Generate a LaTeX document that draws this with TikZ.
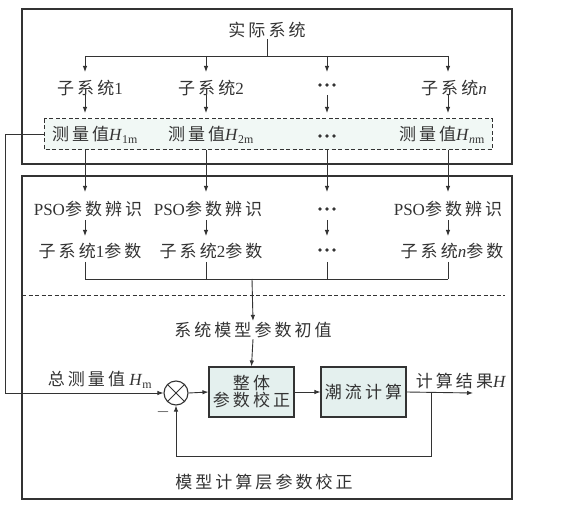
\documentclass[tikz,border=0pt]{standalone}
\usepackage{fontspec}
\setmainfont{Liberation Serif}
\newfontfamily\cjk[LetterSpace=18]{Noto Sans CJK SC}
\usetikzlibrary{arrows.meta,calc}
\newcommand\zh[1]{{\cjk #1}}
\definecolor{ink}{HTML}{333333}
\definecolor{boxfill}{HTML}{E4F0EE}
\definecolor{dashfill}{HTML}{F1F8F5}
\begin{document}
\begin{tikzpicture}[x=1pt,y=-1pt,
  every node/.style={text=ink,font=\fontsize{17}{19}\selectfont,inner sep=1pt},
  ln/.style={draw=ink,line width=0.9pt},
  arr/.style={ln,-{Latex[length=6pt,width=4.5pt]}},
  frame/.style={draw=ink,line width=1.1pt},
  blk/.style={draw=ink,line width=1.1pt,fill=boxfill,minimum width=85pt,minimum height=50pt,align=center,inner sep=2pt},
  dots/.style={minimum width=20pt,minimum height=6pt,inner sep=0pt,
    path picture={\fill[ink] (path picture bounding box.center) circle (1.8pt)
      ++(-7pt,0) circle (1.8pt) ++(14pt,0) circle (1.8pt);}}]
\useasboundingbox (0,0) rectangle (567,510);
% frames
\draw[frame] (22,9) rectangle (512,164);
\draw[frame] (22,176) rectangle (512,499);
% dashed measurement box
\draw[ink,line width=1pt,dash pattern=on 4pt off 2.5pt,fill=dashfill] (44,119) rectangle (492,150);
\coordinate (dl) at (44,134);
% top
\node (real) at (267,30) {\zh{实际系统}};
\coordinate (j) at (267,56);
\foreach \x/\n in {85/a,206/b,327/c,448/d}{
  \coordinate (t\n) at (\x,56);
  \coordinate (s\n) at (\x,72);
}
\draw[ln] (real.south) -- (j);
\draw[ln] (ta) -- (td);
\foreach \n in {a,b,c,d}{\draw[arr] (t\n) -- (s\n);}
\node (sub1) at (90,88) {\zh{子系统}1};
\node (sub2) at (211,88) {\zh{子系统}2};
\node[dots] (sub3) at (327,85) {};
\node (sub4) at (454,88) {\zh{子系统}\textit{n}};
\foreach \x/\n in {85/a,206/b,327/c,448/d}{
  \coordinate (u\n) at (\x,95);
  \coordinate (m\n) at (\x,113);
}
\foreach \n in {a,b,c,d}{\draw[arr] (u\n) -- (m\n);}
\node (h1) at (95,135) {\zh{测量值}\textit{H}\textsubscript{1m}};
\node (h2) at (211,135) {\zh{测量值}\textit{H}\textsubscript{2m}};
\node[dots] (h3) at (327,136) {};
\node (h4) at (442,135) {\zh{测量值}\textit{H}\textsubscript{\textit{n}m}};
% down to PSO
\foreach \x/\n in {85/a,206/b,327/c,448/d}{
  \coordinate (v\n) at (\x,150);
  \coordinate (p\n) at (\x,192);
}
\foreach \n in {a,b,c,d}{\draw[arr] (v\n) -- (p\n);}
\node (pso1) at (88,209) {PSO\zh{参数辨识}};
\node (pso2) at (208,209) {PSO\zh{参数辨识}};
\node[dots] (pso3) at (327,209) {};
\node (pso4) at (448,209) {PSO\zh{参数辨识}};
\foreach \x/\n in {85/a,206/b,327/c,448/d}{
  \coordinate (w\n) at (\x,220);
  \coordinate (q\n) at (\x,236);
}
\foreach \n in {a,b,c,d}{\draw[arr] (w\n) -- (q\n);}
\node (par1) at (90,251) {\zh{子系统}1\zh{参数}};
\node (par2) at (211,251) {\zh{子系统}2\zh{参数}};
\node[dots] (par3) at (327,250) {};
\node (par4) at (452,251) {\zh{子系统}\textit{n}\zh{参数}};
\foreach \x/\n in {85/a,206/b,327/c,448/d}{
  \coordinate (x\n) at (\x,262);
  \coordinate (y\n) at (\x,279);
  \draw[ln] (x\n) -- (y\n);
}
\draw[ln] (ya) -- (yd);
\coordinate (k) at (252,279);
\draw[ink,line width=1pt,dash pattern=on 4pt off 2.5pt] (22,296) -- (505,296);
\node (init) at (253,330) {\zh{系统模型参数初值}};
\draw[arr] (k) -- (init.north);
% control loop
\node[blk] (b1) at (251.5,392) {\zh{整体}\\[-2pt]\zh{参数校正}};
\node[blk] (b2) at (363.5,392) {\zh{潮流计算}};
\draw[arr] (init.south) -- (b1.north);
\node[draw=ink,line width=1.1pt,circle,minimum size=24pt,inner sep=0pt] (sum) at (176,393) {};
\draw[ink,line width=1pt] (sum.north west) -- (sum.south east) (sum.north east) -- (sum.south west);
\node (hm) at (100,380) {\zh{总测量值} \textit{H}\textsubscript{m}};
\node (minus) at (163,412) {$-$};
\coordinate (lx) at (5,134);
\coordinate (ly) at (5,393);
\draw[arr] (dl) -- (lx) -- (ly) -- (sum.west);
\draw[arr] (sum.east) -- (b1.west);
\draw[arr] (b1.east) -- (b2.west);
\coordinate (out) at (473,393);
\draw[arr] (b2.east) -- (out);
\node (res) at (461,381) {\zh{计算结果}\textit{H}};
\coordinate (fb1) at (431,393);
\coordinate (fb2) at (431,456);
\coordinate (fb3) at (176,456);
\draw[arr] (fb1) -- (fb2) -- (fb3) -- (sum.south);
\node (layer) at (264,482) {\zh{模型计算层参数校正}};
\end{tikzpicture}
\end{document}
